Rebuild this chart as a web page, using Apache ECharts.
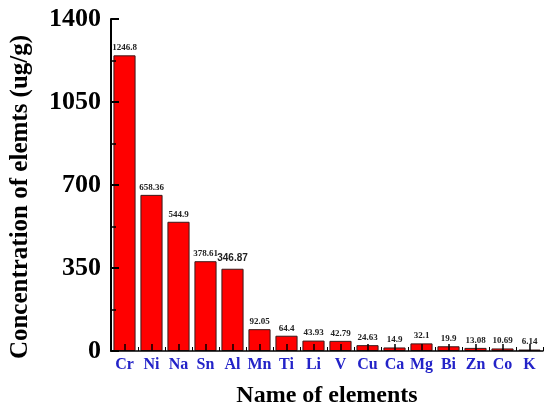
<!DOCTYPE html>
<html>
<head>
<meta charset="utf-8">
<script src="https://cdn.jsdelivr.net/npm/echarts@6/dist/echarts.min.js"></script>
<style>html,body{margin:0;padding:0;background:#fff}#c{width:550px;height:413px}</style>
</head>
<body>
<div id="c"></div>
<script>
var categories = ['Cr','Ni','Na','Sn','Al','Mn','Ti','Li','V','Cu','Ca','Mg','Bi','Zn','Co','K'];
var values = [1246.8, 658.36, 544.9, 378.61, 346.87, 92.05, 64.4, 43.93, 42.79, 24.63, 14.9, 32.1, 19.9, 13.08, 10.69, 6.14];
var yTicks = [0, 350, 700, 1050, 1400];
var highlightCategory = 'Al';

var serif = '"Liberation Serif", "DejaVu Serif", serif';
var chart = echarts.init(document.getElementById('c'));
var data = values.map(function (v, i) {
  var item = { value: v };
  if (categories[i] === highlightCategory) {
    item.label = { fontFamily: '"Liberation Sans", Arial, sans-serif', fontSize: 10, distance: 5 };
  }
  return item;
});
chart.setOption({
  animation: false,
  backgroundColor: '#fff',
  grid: { left: 111, right: 7, top: 19, bottom: 62, containLabel: false, outerBoundsMode: 'none' },
  xAxis: [{
    type: 'category',
    data: categories,
    z: 5,
    name: 'Name of elements',
    nameLocation: 'middle',
    nameGap: 33,
    nameTextStyle: { fontFamily: serif, fontWeight: 'bold', fontSize: 24, color: '#000' },
    axisLine: { lineStyle: { color: '#000', width: 1.5 } },
    axisTick: { show: true, inside: true, alignWithLabel: true, length: 7, lineStyle: { color: '#000', width: 1.5 } },
    axisLabel: { interval: 0, fontFamily: serif, fontWeight: 'bold', fontSize: 16, color: '#2323c8', margin: 6 }
  }, {
    type: 'category',
    data: categories,
    position: 'bottom',
    z: 5,
    axisLine: { show: false },
    axisTick: { show: true, inside: true, interval: 0, length: 4, lineStyle: { color: '#000', width: 1 } },
    axisLabel: { show: false }
  }],
  yAxis: {
    type: 'value',
    z: 5,
    min: yTicks[0],
    max: yTicks[yTicks.length - 1],
    interval: 350,
    name: 'Concentration of elemts (ug/g)',
    nameLocation: 'middle',
    nameGap: 78,
    nameTextStyle: { fontFamily: serif, fontWeight: 'bold', fontSize: 25, color: '#000', padding: [0, 24, 0, 0] },
    splitLine: { show: false },
    axisLine: { show: true, lineStyle: { color: '#000', width: 2 } },
    axisTick: { show: true, inside: true, length: 8, lineStyle: { color: '#000', width: 2 } },
    minorTick: { show: true, splitNumber: 2, length: 5, lineStyle: { color: '#000', width: 1.5 } },
    axisLabel: { fontFamily: serif, fontWeight: 'bold', fontSize: 26, color: '#000', margin: 10, formatter: function (v) { return String(v); } }
  },
  series: [{
    type: 'bar',
    data: data,
    barCategoryGap: '18%',
    itemStyle: { color: '#ff0000', borderColor: '#3a1a1a', borderWidth: 1 },
    label: { show: true, position: 'top', distance: 3, fontFamily: serif, fontWeight: 'bold', fontSize: 9, color: '#222' }
  }]
});
</script>
</body>
</html>
